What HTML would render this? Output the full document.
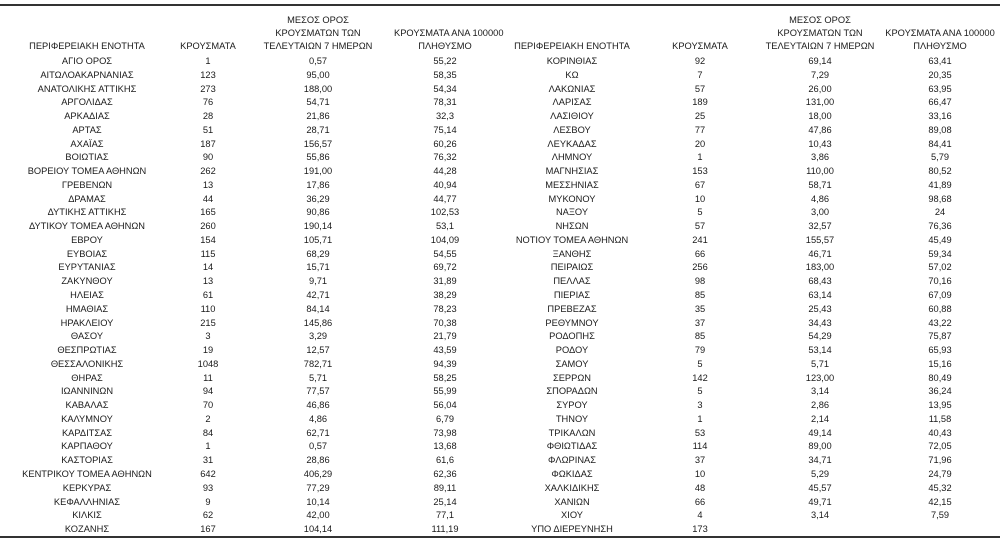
<!DOCTYPE html>
<html><head><meta charset="utf-8"><style>
body{margin:0;width:1000px;height:539px;background:#fff;position:relative;overflow:hidden;font-family:"Liberation Sans","DejaVu Sans",sans-serif;color:#1a1a1a;font-size:9.3px}
.ln{position:absolute;left:0;width:1000px;height:2px;background:#333}
table{position:absolute;border-collapse:collapse;table-layout:fixed}
td{padding:0;text-align:center;white-space:nowrap;height:13.76px;line-height:13.76px}
.h td{line-height:13px;vertical-align:bottom;height:41px}
</style></head><body>
<div class="ln" style="top:4px"></div>
<div class="ln" style="top:536px"></div>
<table class="h" style="left:0;top:12px;width:496px"><colgroup><col style="width:174px"><col style="width:68px"><col style="width:152px"><col style="width:102px"></colgroup>
<tr><td>ΠΕΡΙΦΕΡΕΙΑΚΗ ΕΝΟΤΗΤΑ</td><td>ΚΡΟΥΣΜΑΤΑ</td><td>ΜΕΣΟΣ ΟΡΟΣ<br>ΚΡΟΥΣΜΑΤΩΝ ΤΩΝ<br>ΤΕΛΕΥΤΑΙΩΝ 7 ΗΜΕΡΩΝ</td><td>ΚΡΟΥΣΜΑΤΑ ΑΝΑ 100000<br>ΠΛΗΘΥΣΜΟ</td></tr></table>
<table class="h" style="left:500px;top:12px;width:496px"><colgroup><col style="width:144px"><col style="width:112px"><col style="width:128px"><col style="width:112px"></colgroup>
<tr><td>ΠΕΡΙΦΕΡΕΙΑΚΗ ΕΝΟΤΗΤΑ</td><td>ΚΡΟΥΣΜΑΤΑ</td><td>ΜΕΣΟΣ ΟΡΟΣ<br>ΚΡΟΥΣΜΑΤΩΝ ΤΩΝ<br>ΤΕΛΕΥΤΑΙΩΝ 7 ΗΜΕΡΩΝ</td><td>ΚΡΟΥΣΜΑΤΑ ΑΝΑ 100000<br>ΠΛΗΘΥΣΜΟ</td></tr></table>
<table style="left:0;top:55px;width:496px"><colgroup><col style="width:174px"><col style="width:68px"><col style="width:152px"><col style="width:102px"></colgroup>
<tr><td>ΑΓΙΟ ΟΡΟΣ</td><td>1</td><td>0,57</td><td>55,22</td></tr>
<tr><td>ΑΙΤΩΛΟΑΚΑΡΝΑΝΙΑΣ</td><td>123</td><td>95,00</td><td>58,35</td></tr>
<tr><td>ΑΝΑΤΟΛΙΚΗΣ ΑΤΤΙΚΗΣ</td><td>273</td><td>188,00</td><td>54,34</td></tr>
<tr><td>ΑΡΓΟΛΙΔΑΣ</td><td>76</td><td>54,71</td><td>78,31</td></tr>
<tr><td>ΑΡΚΑΔΙΑΣ</td><td>28</td><td>21,86</td><td>32,3</td></tr>
<tr><td>ΑΡΤΑΣ</td><td>51</td><td>28,71</td><td>75,14</td></tr>
<tr><td>ΑΧΑΪΑΣ</td><td>187</td><td>156,57</td><td>60,26</td></tr>
<tr><td>ΒΟΙΩΤΙΑΣ</td><td>90</td><td>55,86</td><td>76,32</td></tr>
<tr><td>ΒΟΡΕΙΟΥ ΤΟΜΕΑ ΑΘΗΝΩΝ</td><td>262</td><td>191,00</td><td>44,28</td></tr>
<tr><td>ΓΡΕΒΕΝΩΝ</td><td>13</td><td>17,86</td><td>40,94</td></tr>
<tr><td>ΔΡΑΜΑΣ</td><td>44</td><td>36,29</td><td>44,77</td></tr>
<tr><td>ΔΥΤΙΚΗΣ ΑΤΤΙΚΗΣ</td><td>165</td><td>90,86</td><td>102,53</td></tr>
<tr><td>ΔΥΤΙΚΟΥ ΤΟΜΕΑ ΑΘΗΝΩΝ</td><td>260</td><td>190,14</td><td>53,1</td></tr>
<tr><td>ΕΒΡΟΥ</td><td>154</td><td>105,71</td><td>104,09</td></tr>
<tr><td>ΕΥΒΟΙΑΣ</td><td>115</td><td>68,29</td><td>54,55</td></tr>
<tr><td>ΕΥΡΥΤΑΝΙΑΣ</td><td>14</td><td>15,71</td><td>69,72</td></tr>
<tr><td>ΖΑΚΥΝΘΟΥ</td><td>13</td><td>9,71</td><td>31,89</td></tr>
<tr><td>ΗΛΕΙΑΣ</td><td>61</td><td>42,71</td><td>38,29</td></tr>
<tr><td>ΗΜΑΘΙΑΣ</td><td>110</td><td>84,14</td><td>78,23</td></tr>
<tr><td>ΗΡΑΚΛΕΙΟΥ</td><td>215</td><td>145,86</td><td>70,38</td></tr>
<tr><td>ΘΑΣΟΥ</td><td>3</td><td>3,29</td><td>21,79</td></tr>
<tr><td>ΘΕΣΠΡΩΤΙΑΣ</td><td>19</td><td>12,57</td><td>43,59</td></tr>
<tr><td>ΘΕΣΣΑΛΟΝΙΚΗΣ</td><td>1048</td><td>782,71</td><td>94,39</td></tr>
<tr><td>ΘΗΡΑΣ</td><td>11</td><td>5,71</td><td>58,25</td></tr>
<tr><td>ΙΩΑΝΝΙΝΩΝ</td><td>94</td><td>77,57</td><td>55,99</td></tr>
<tr><td>ΚΑΒΑΛΑΣ</td><td>70</td><td>46,86</td><td>56,04</td></tr>
<tr><td>ΚΑΛΥΜΝΟΥ</td><td>2</td><td>4,86</td><td>6,79</td></tr>
<tr><td>ΚΑΡΔΙΤΣΑΣ</td><td>84</td><td>62,71</td><td>73,98</td></tr>
<tr><td>ΚΑΡΠΑΘΟΥ</td><td>1</td><td>0,57</td><td>13,68</td></tr>
<tr><td>ΚΑΣΤΟΡΙΑΣ</td><td>31</td><td>28,86</td><td>61,6</td></tr>
<tr><td>ΚΕΝΤΡΙΚΟΥ ΤΟΜΕΑ ΑΘΗΝΩΝ</td><td>642</td><td>406,29</td><td>62,36</td></tr>
<tr><td>ΚΕΡΚΥΡΑΣ</td><td>93</td><td>77,29</td><td>89,11</td></tr>
<tr><td>ΚΕΦΑΛΛΗΝΙΑΣ</td><td>9</td><td>10,14</td><td>25,14</td></tr>
<tr><td>ΚΙΛΚΙΣ</td><td>62</td><td>42,00</td><td>77,1</td></tr>
<tr><td>ΚΟΖΑΝΗΣ</td><td>167</td><td>104,14</td><td>111,19</td></tr>
</table>
<table style="left:500px;top:55px;width:496px"><colgroup><col style="width:144px"><col style="width:112px"><col style="width:128px"><col style="width:112px"></colgroup>
<tr><td>ΚΟΡΙΝΘΙΑΣ</td><td>92</td><td>69,14</td><td>63,41</td></tr>
<tr><td>ΚΩ</td><td>7</td><td>7,29</td><td>20,35</td></tr>
<tr><td>ΛΑΚΩΝΙΑΣ</td><td>57</td><td>26,00</td><td>63,95</td></tr>
<tr><td>ΛΑΡΙΣΑΣ</td><td>189</td><td>131,00</td><td>66,47</td></tr>
<tr><td>ΛΑΣΙΘΙΟΥ</td><td>25</td><td>18,00</td><td>33,16</td></tr>
<tr><td>ΛΕΣΒΟΥ</td><td>77</td><td>47,86</td><td>89,08</td></tr>
<tr><td>ΛΕΥΚΑΔΑΣ</td><td>20</td><td>10,43</td><td>84,41</td></tr>
<tr><td>ΛΗΜΝΟΥ</td><td>1</td><td>3,86</td><td>5,79</td></tr>
<tr><td>ΜΑΓΝΗΣΙΑΣ</td><td>153</td><td>110,00</td><td>80,52</td></tr>
<tr><td>ΜΕΣΣΗΝΙΑΣ</td><td>67</td><td>58,71</td><td>41,89</td></tr>
<tr><td>ΜΥΚΟΝΟΥ</td><td>10</td><td>4,86</td><td>98,68</td></tr>
<tr><td>ΝΑΞΟΥ</td><td>5</td><td>3,00</td><td>24</td></tr>
<tr><td>ΝΗΣΩΝ</td><td>57</td><td>32,57</td><td>76,36</td></tr>
<tr><td>ΝΟΤΙΟΥ ΤΟΜΕΑ ΑΘΗΝΩΝ</td><td>241</td><td>155,57</td><td>45,49</td></tr>
<tr><td>ΞΑΝΘΗΣ</td><td>66</td><td>46,71</td><td>59,34</td></tr>
<tr><td>ΠΕΙΡΑΙΩΣ</td><td>256</td><td>183,00</td><td>57,02</td></tr>
<tr><td>ΠΕΛΛΑΣ</td><td>98</td><td>68,43</td><td>70,16</td></tr>
<tr><td>ΠΙΕΡΙΑΣ</td><td>85</td><td>63,14</td><td>67,09</td></tr>
<tr><td>ΠΡΕΒΕΖΑΣ</td><td>35</td><td>25,43</td><td>60,88</td></tr>
<tr><td>ΡΕΘΥΜΝΟΥ</td><td>37</td><td>34,43</td><td>43,22</td></tr>
<tr><td>ΡΟΔΟΠΗΣ</td><td>85</td><td>54,29</td><td>75,87</td></tr>
<tr><td>ΡΟΔΟΥ</td><td>79</td><td>53,14</td><td>65,93</td></tr>
<tr><td>ΣΑΜΟΥ</td><td>5</td><td>5,71</td><td>15,16</td></tr>
<tr><td>ΣΕΡΡΩΝ</td><td>142</td><td>123,00</td><td>80,49</td></tr>
<tr><td>ΣΠΟΡΑΔΩΝ</td><td>5</td><td>3,14</td><td>36,24</td></tr>
<tr><td>ΣΥΡΟΥ</td><td>3</td><td>2,86</td><td>13,95</td></tr>
<tr><td>ΤΗΝΟΥ</td><td>1</td><td>2,14</td><td>11,58</td></tr>
<tr><td>ΤΡΙΚΑΛΩΝ</td><td>53</td><td>49,14</td><td>40,43</td></tr>
<tr><td>ΦΘΙΩΤΙΔΑΣ</td><td>114</td><td>89,00</td><td>72,05</td></tr>
<tr><td>ΦΛΩΡΙΝΑΣ</td><td>37</td><td>34,71</td><td>71,96</td></tr>
<tr><td>ΦΩΚΙΔΑΣ</td><td>10</td><td>5,29</td><td>24,79</td></tr>
<tr><td>ΧΑΛΚΙΔΙΚΗΣ</td><td>48</td><td>45,57</td><td>45,32</td></tr>
<tr><td>ΧΑΝΙΩΝ</td><td>66</td><td>49,71</td><td>42,15</td></tr>
<tr><td>ΧΙΟΥ</td><td>4</td><td>3,14</td><td>7,59</td></tr>
<tr><td>ΥΠΟ ΔΙΕΡΕΥΝΗΣΗ</td><td>173</td><td></td><td></td></tr>
</table>
</body></html>
